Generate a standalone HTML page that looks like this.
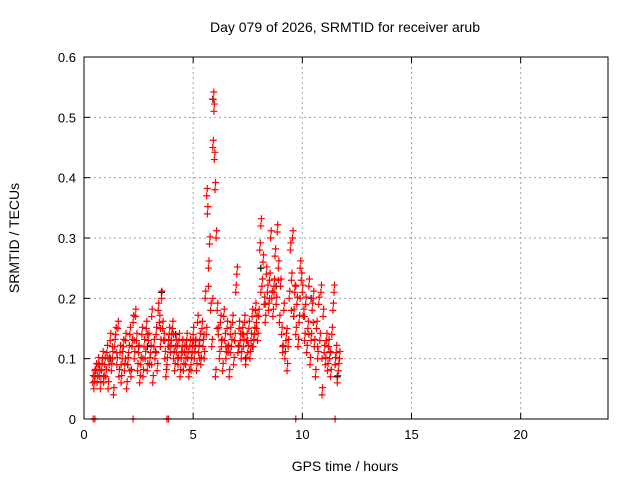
<!DOCTYPE html>
<html><head><meta charset="utf-8"><style>
body{margin:0;background:#fff}
svg{display:block;font-family:"Liberation Sans",sans-serif}
</style></head><body>
<svg id="c" width="640" height="480">
<text x="345" y="32" font-size="14" text-anchor="middle">Day 079 of 2026, SRMTID for receiver arub</text>
<text x="345" y="471" font-size="14" text-anchor="middle">GPS time / hours</text>
<text x="19" y="238" font-size="14" text-anchor="middle" transform="rotate(-90 19 238)">SRMTID / TECUs</text>
<g id="grid"></g>
<g id="pts"></g>
<rect x="84" y="57" width="524" height="362" fill="none" stroke="#000"/>
<g id="ticks"></g>
</svg>
<script>
const xTicks=[0,5,10,15,20];
const yTicks=[0,0.1,0.2,0.3,0.4,0.5,0.6];
const yTickLabels=["0","0.1","0.2","0.3","0.4","0.5","0.6"];
const redTimes=[0.40,0.45,0.5,0.55,0.6,0.65,0.7,0.75,0.8,0.85,0.9,0.95,1.0,1.05,1.1,1.15,1.2,1.25,1.3,1.35,1.4,1.45,1.5,1.55,1.6,1.65,1.7,1.75,1.8,1.85,1.9,1.95,2.0,2.05,2.1,2.15,2.2,2.25,2.3,2.35,2.4,2.45,2.5,2.55,2.6,2.65,2.7,2.75,2.8,2.85,2.9,2.95,3.0,3.05,3.1,3.15,3.2,3.25,3.3,3.35,3.4,3.45,3.5,3.55,3.6,3.65,3.7,3.75,3.8,3.85,3.9,3.95,4.0,4.05,4.1,4.15,4.2,4.25,4.3,4.35,4.4,4.45,4.5,4.55,4.6,4.65,4.7,4.75,4.8,4.85,4.9,4.95,5.0,5.05,5.1,5.15,5.2,5.25,5.3,5.35,5.4,5.45,5.5,5.55,5.6,5.62,5.65,5.7,5.75,5.8,5.85,5.9,5.92,5.95,5.97,6.0,6.02,6.05,6.1,6.15,6.2,6.25,6.3,6.35,6.4,6.45,6.5,6.55,6.6,6.65,6.7,6.75,6.8,6.85,6.9,6.95,7.0,7.05,7.1,7.15,7.2,7.25,7.3,7.35,7.4,7.45,7.5,7.55,7.6,7.65,7.7,7.75,7.8,7.85,7.9,7.95,8.0,8.05,8.1,8.15,8.2,8.25,8.3,8.35,8.4,8.45,8.5,8.55,8.6,8.65,8.7,8.75,8.8,8.85,8.9,8.95,9.0,9.05,9.1,9.15,9.2,9.25,9.3,9.35,9.4,9.45,9.5,9.55,9.6,9.65,9.7,9.75,9.8,9.85,9.9,9.95,10.0,10.05,10.1,10.15,10.2,10.25,10.3,10.35,10.4,10.45,10.5,10.55,10.6,10.65,10.7,10.75,10.8,10.85,10.9,10.95,11.0,11.05,11.1,11.15,11.2,11.25,11.3,11.35,11.4,11.45,11.5,11.55,11.6,11.65,11.7];
const redValues=[.06,.05,.07,.08,.06,.09,.07,.05,.08,.10,.06,.09,.07,.11,.05,.09,.13,.08,.10,.04,.12,.14,.09,.15,.07,.11,.06,.10,.12,.08,.13,.05,.09,.11,.14,.07,.12,.16,.10,.17,.13,.08,.11,.06,.09,.14,.07,.12,.10,.15,.08,.13,.09,.11,.17,.06,.12,.10,.14,.08,.18,.16,.12,.20,.15,.13,.10,.07,.09,.12,.14,.11,.13,.15,.10,.08,.12,.11,.09,.13,.07,.10,.12,.08,.11,.09,.13,.10,.07,.12,.09,.11,.14,.10,.12,.08,.16,.11,.13,.09,.15,.12,.10,.20,.14,.37,.34,.25,.29,.18,.12,.45,.53,.51,.43,.38,.07,.30,.18,.14,.10,.16,.12,.08,.17,.13,.10,.15,.11,.07,.14,.12,.16,.09,.13,.21,.24,.11,.15,.13,.10,.14,.12,.16,.09,.13,.11,.15,.10,.13,.17,.12,.14,.18,.16,.13,.17,.28,.32,.22,.26,.19,.16,.24,.21,.18,.23,.30,.20,.17,.22,.27,.19,.31,.25,.16,.22,.14,.11,.18,.10,.13,.08,.12,.20,.28,.23,.30,.17,.21,.14,.19,.12,.16,.25,.23,.21,.17,.13,.19,.11,.15,.22,.09,.13,.18,.20,.12,.07,.15,.10,.19,.13,.21,.04,.17,.11,.09,.13,.08,.12,.10,.07,.14,.18,.21,.09,.11,.06,.08,.10];
const red2Times=[0.5,0.7,0.9,1.1,1.3,1.5,1.7,1.9,2.1,2.3,2.5,2.7,2.9,3.1,3.3,3.5,3.7,3.9,4.1,4.3,4.5,4.7,4.9,5.1,5.3,5.5,5.7,5.9,6.1,6.3,6.5,6.7,6.9,7.1,7.3,7.5,7.7,7.9,8.1,8.3,8.5,8.7,8.9,9.1,9.3,9.5,9.7,9.9,10.1,10.3,10.5,10.7,10.9,11.1,11.3,11.5];
const red2Values=[.08,.09,.07,.10,.12,.11,.09,.10,.08,.13,.12,.10,.14,.09,.11,.15,.13,.12,.14,.10,.11,.12,.08,.13,.10,.14,.22,.20,.15,.13,.12,.11,.13,.12,.14,.13,.12,.15,.21,.19,.20,.21,.23,.12,.15,.18,.22,.20,.17,.14,.16,.12,.10,.13,.11,.09];
const blackTimes=[0.5,1.2,2.0,2.9,3.55,4.2,5.0,5.9,6.6,7.4,8.1,8.8,9.6,10.4,11.2,11.6];
const blackValues=[.07,.10,.09,.12,.21,.14,.13,.53,.12,.10,.25,.22,.17,.20,.12,.07];
const zeroTimes=[0.42,0.5,2.25,3.8,3.87,9.7,11.5];
const zeroValues=[0,0,0,0,0,0,0];

const NS="http://www.w3.org/2000/svg";
const X0=84,X1=608,Y0=419,Y1=57;
const sx=t=>X0+(t/24)*(X1-X0);
const sy=v=>Y0-(v/0.6)*(Y0-Y1);
function mk(tag,at,parent){const e=document.createElementNS(NS,tag);for(const k in at)e.setAttribute(k,at[k]);parent.appendChild(e);return e;}
const grid=document.getElementById('grid'),ticks=document.getElementById('ticks'),pts=document.getElementById('pts');
xTicks.forEach(t=>{
  const x=sx(t);
  if(t>0){const g=mk('line',{x1:x,x2:x,y1:Y0,y2:Y1,stroke:'#a0a0a0','stroke-dasharray':'2,3'},grid);
  
  }
  mk('line',{x1:x,x2:x,y1:Y0,y2:Y0-6,stroke:'#000'},ticks);
  mk('line',{x1:x,x2:x,y1:Y1,y2:Y1+6,stroke:'#000'},ticks);
  const l=mk('text',{x:x,y:Y0+20,'font-size':13,'text-anchor':'middle'},ticks);l.textContent=t;
  
  
});
yTicks.forEach((v,i)=>{
  const y=sy(v);
  if(v>0&&v<0.6){const g=mk('line',{x1:X0,x2:X1,y1:y,y2:y,stroke:'#a0a0a0','stroke-dasharray':'2,3'},grid);
  
  }
  mk('line',{x1:X0,x2:X0+6,y1:y,y2:y,stroke:'#000'},ticks);
  mk('line',{x1:X1,x2:X1-6,y1:y,y2:y,stroke:'#000'},ticks);
  const l=mk('text',{x:X0-8,y:y+5,'font-size':13,'text-anchor':'end'},ticks);l.textContent=yTickLabels[i];
  
  
});
function plus(t,v,col){
  const x=sx(t),y=sy(v);
  const p=mk('path',{d:`M${x-3.5} ${y}H${x+3.5}M${x} ${y-3.5}V${y+3.5}`,stroke:col,'stroke-width':1.2,fill:'none'},pts);
  
  
}
blackTimes.forEach((t,i)=>plus(t,blackValues[i],'#000'));
redTimes.forEach((t,i)=>{plus(t,redValues[i],'#f00');plus(t+0.025,redValues[i]+0.012,'#f00');});
red2Times.forEach((t,i)=>plus(t,red2Values[i],'#f00'));
zeroTimes.forEach((t,i)=>plus(t,zeroValues[i],'#f00'));
</script>
</body></html>
